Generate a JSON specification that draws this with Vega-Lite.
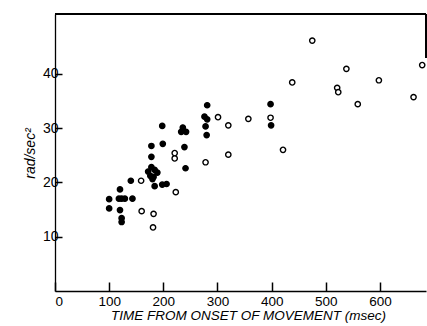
{
  "$schema": "https://vega.github.io/schema/vega-lite/v6.json",
  "width": 371,
  "height": 277,
  "autosize": "none",
  "padding": {"left": 55, "top": 14, "right": 1, "bottom": 35},
  "background": "white",
  "config": {
    "view": {"stroke": null},
    "font": "Liberation Sans",
    "axis": {"grid": false, "domainColor": "black", "labelColor": "black", "titleColor": "black", "domainWidth": 1.3}
  },
  "data": {
    "values": [
      {"t": 100, "a": 16.9, "type": "filled"},
      {"t": 100, "a": 15.2, "type": "filled"},
      {"t": 120, "a": 18.7, "type": "filled"},
      {"t": 118, "a": 17.0, "type": "filled"},
      {"t": 123, "a": 17.0, "type": "filled"},
      {"t": 129, "a": 17.0, "type": "filled"},
      {"t": 143, "a": 17.0, "type": "filled"},
      {"t": 120, "a": 14.9, "type": "filled"},
      {"t": 123, "a": 13.4, "type": "filled"},
      {"t": 123, "a": 12.7, "type": "filled"},
      {"t": 140, "a": 20.3, "type": "filled"},
      {"t": 178, "a": 26.7, "type": "filled"},
      {"t": 199, "a": 27.1, "type": "filled"},
      {"t": 178, "a": 24.7, "type": "filled"},
      {"t": 172, "a": 22.0, "type": "filled"},
      {"t": 178, "a": 22.8, "type": "filled"},
      {"t": 184, "a": 22.3, "type": "filled"},
      {"t": 176, "a": 21.2, "type": "filled"},
      {"t": 182, "a": 21.0, "type": "filled"},
      {"t": 189, "a": 21.8, "type": "filled"},
      {"t": 180, "a": 20.6, "type": "filled"},
      {"t": 184, "a": 19.3, "type": "filled"},
      {"t": 198, "a": 19.6, "type": "filled"},
      {"t": 206, "a": 19.7, "type": "filled"},
      {"t": 198, "a": 30.4, "type": "filled"},
      {"t": 236, "a": 30.1, "type": "filled"},
      {"t": 233, "a": 29.3, "type": "filled"},
      {"t": 242, "a": 29.3, "type": "filled"},
      {"t": 239, "a": 26.5, "type": "filled"},
      {"t": 241, "a": 22.6, "type": "filled"},
      {"t": 281, "a": 34.2, "type": "filled"},
      {"t": 276, "a": 32.1, "type": "filled"},
      {"t": 281, "a": 31.6, "type": "filled"},
      {"t": 278, "a": 30.3, "type": "filled"},
      {"t": 280, "a": 28.7, "type": "filled"},
      {"t": 398, "a": 34.4, "type": "filled"},
      {"t": 399, "a": 30.5, "type": "filled"},
      {"t": 159, "a": 20.3, "type": "open"},
      {"t": 160, "a": 14.7, "type": "open"},
      {"t": 182, "a": 14.2, "type": "open"},
      {"t": 181, "a": 11.7, "type": "open"},
      {"t": 221, "a": 25.4, "type": "open"},
      {"t": 221, "a": 24.4, "type": "open"},
      {"t": 223, "a": 18.2, "type": "open"},
      {"t": 278, "a": 23.7, "type": "open"},
      {"t": 301, "a": 32.0, "type": "open"},
      {"t": 320, "a": 30.5, "type": "open"},
      {"t": 320, "a": 25.1, "type": "open"},
      {"t": 357, "a": 31.7, "type": "open"},
      {"t": 398, "a": 31.9, "type": "open"},
      {"t": 421, "a": 26.0, "type": "open"},
      {"t": 438, "a": 38.4, "type": "open"},
      {"t": 475, "a": 46.1, "type": "open"},
      {"t": 521, "a": 37.4, "type": "open"},
      {"t": 523, "a": 36.6, "type": "open"},
      {"t": 538, "a": 40.9, "type": "open"},
      {"t": 559, "a": 34.4, "type": "open"},
      {"t": 598, "a": 38.8, "type": "open"},
      {"t": 662, "a": 35.7, "type": "open"},
      {"t": 678, "a": 41.6, "type": "open"}
    ]
  },
  "layer": [
    {
      "mark": {"type": "point", "filled": true, "size": 28, "stroke": "black", "strokeWidth": 1.4, "strokeOpacity": 1, "fillOpacity": 1, "shape": "circle"},
      "encoding": {
        "x": {
          "field": "t", "type": "quantitative",
          "scale": {"domain": [0, 685], "nice": false, "zero": false},
          "axis": {
            "values": [0, 100, 200, 300, 400, 500, 600],
            "ticks": true,
            "tickSize": -9,
            "tickWidth": 1.5,
            "tickColor": "black",
            "labelPadding": 12,
            "labelFontSize": 13.5,
            "title": "TIME FROM ONSET OF MOVEMENT (msec)",
            "titleFontSize": 13.5,
            "titleFontStyle": "italic",
            "titleFontWeight": "normal",
            "titleX": 193,
            "titleY": 24,
            "titleBaseline": "middle"
          }
        },
        "y": {
          "field": "a", "type": "quantitative",
          "scale": {"domain": [0, 51], "nice": false, "zero": false},
          "axis": {
            "values": [10, 20, 30, 40],
            "ticks": true,
            "tickSize": -7,
            "tickWidth": 1.5,
            "tickColor": "black",
            "labelPadding": 4,
            "labelFontSize": 14,
            "title": "rad/sec²",
            "titleFontSize": 14,
            "titleFontStyle": "italic",
            "titleFontWeight": "normal",
            "titleX": -25,
            "titleY": 139,
            "titleAlign": "center",
            "titleBaseline": "middle"
          }
        },
        "fill": {
          "field": "type", "type": "nominal",
          "scale": {"domain": ["filled", "open"], "range": ["black", "white"]},
          "legend": null
        }
      }
    },
    {
      "mark": {"type": "rule", "color": "black", "strokeWidth": 1.2},
      "encoding": {
        "x": {"datum": 0},
        "x2": {"datum": 685},
        "y": {"datum": 51}
      }
    },
    {
      "mark": {"type": "rule", "color": "black", "strokeWidth": 1.2},
      "encoding": {
        "x": {"datum": 685},
        "y": {"datum": 51},
        "y2": {"datum": 43}
      }
    }
  ]
}
